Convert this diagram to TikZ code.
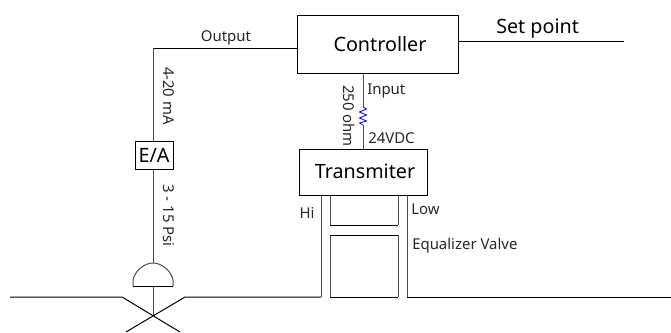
\documentclass[tikz,border=0pt]{standalone}
\usepackage{fontspec}
\setmainfont{Noto Sans}
\usetikzlibrary{calc}
\tikzset{
  px/.style={x=0.75pt,y=-0.75pt},
  wire/.style={draw=black,line width=0.75pt},
  greywire/.style={draw=black!70,line width=0.75pt},
  boxnode/.style={draw=black,line width=0.75pt,fill=white,inner sep=0pt,anchor=north west},
  big/.style={font=\fontsize{14.8pt}{16pt}\selectfont,text=black,inner sep=0pt},
  small/.style={font=\fontsize{11.2pt}{13pt}\selectfont,text=black!85,inner sep=0pt},
  vert/.style={small,rotate=-90},
}
\begin{document}
\begin{tikzpicture}[px]
\useasboundingbox (0,0) rectangle (671,332);
% coordinates
\coordinate (outcorner) at (153,48);
\coordinate (setend) at (624,41);
\coordinate (pl0) at (10,297);
\coordinate (pl1) at (122,297);
\coordinate (pr0) at (321,297);
\coordinate (pr1) at (185,297);
\coordinate (cross) at (153,316);
\coordinate (xl) at (126,332);
\coordinate (xr) at (180,332);
\coordinate (hiT) at (321,195);
\coordinate (loB) at (407,297);
\coordinate (loT) at (407,195);
\coordinate (pipeend) at (671,297);
\coordinate (actL) at (133,286);
\coordinate (actR) at (173,286);
\coordinate (actM) at (153,286);
\coordinate (actT) at (153,263);
\coordinate (r0) at (363,74);
\coordinate (r1) at (363,107);
\coordinate (r2) at (363,125);
\coordinate (r3) at (363,149);
% main boxes
\node[boxnode,minimum width=161pt*0.75,minimum height=58pt*0.75] (ctrl) at (297,15) {};
\node[big] (ctrlt) at (380,44.5) {Controller};
\node[boxnode,minimum width=128pt*0.75,minimum height=46pt*0.75] (tx) at (299,149) {};
\node[big] (txt) at (365,171.5) {Transmiter};
% wires
\draw[wire] (ctrl.west |- outcorner) -- (outcorner);
\draw[greywire] (outcorner) -- (actT);
\draw[greywire] (actM) -- (cross);
\draw[wire] (ctrl.east |- setend) -- (setend);
\draw[greywire] (r0) -- (r1);
\draw[blue,line width=0.6pt] (r1) -- (366.5,109) -- (359.5,112) -- (366.5,115) -- (359.5,118) -- (366.5,121) -- (359.5,123) -- (r2);
\draw[greywire] (r2) -- (r3);
\node[boxnode,minimum width=38pt*0.75,minimum height=28pt*0.75] (ea) at (135,141) {};
\node[big] (eat) at (154,155) {E/A};
% pipes
\draw[wire] (pl0) -- (pl1) -- (xr);
\draw[wire] (xl) -- (pr1) -- (pr0);
\draw[wire] (pipeend) -- (loB);
\draw[greywire] (loB) -- (loT);
\draw[greywire] (hiT) -- (pr0);
% transmitter chambers
\draw[greywire] (330,195) -- (330,225);
\draw[greywire] (398,195) -- (398,225);
\draw[wire] (330,225) -- (398,225);
\draw[greywire] (330,297) -- (330,235);
\draw[greywire] (398,297) -- (398,235);
\draw[wire] (330,235) -- (398,235);
\draw[wire] (330,297) -- (398,297);
% actuator
\draw[wire] (actL) -- (actR);
\draw[greywire] (actL) -- (133,280) .. controls (135,270) and (145,263) .. (actT) .. controls (161,263) and (171,270) .. (173,280) -- (actR);
% labels
\node[small] (o) at (226,37.5) {Output};
\node[big,anchor=west] (sp) at (496,29) {Set point};
\node[small,anchor=west] (in) at (367,90.5) {Input};
\node[small,anchor=west] (v) at (368,138) {24VDC};
\node[small] (hi) at (307,212.5) {Hi};
\node[small,anchor=west] (lo) at (411,209) {Low};
\node[small,anchor=west] (eq) at (412,245.5) {Equalizer Valve};
\node[vert] (r) at (349,116) {250 ohm};
\node[vert] (ma) at (169,96) {4-20 mA};
\node[vert] (psi) at (169,215.5) {3 - 15 Psi};
\end{tikzpicture}
\end{document}
